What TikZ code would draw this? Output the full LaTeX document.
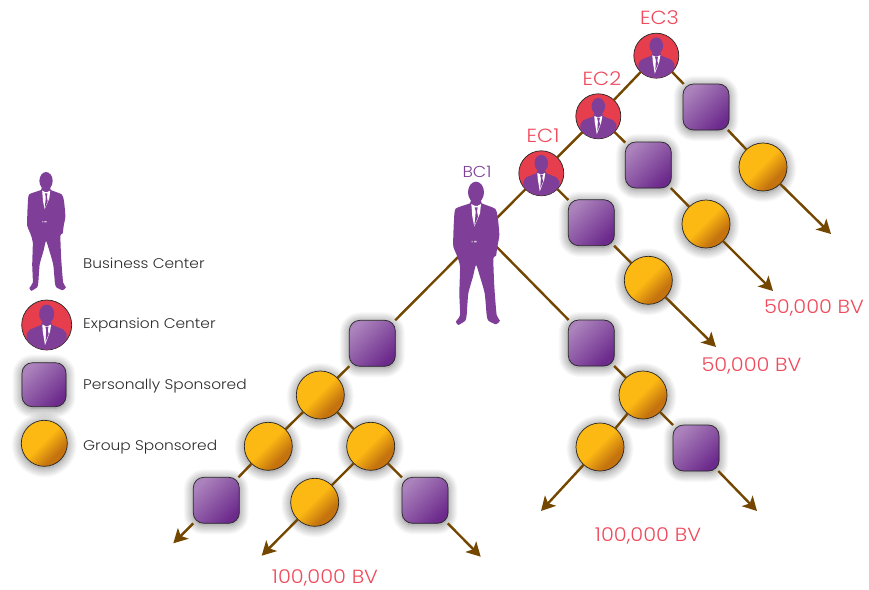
\documentclass[tikz,border=0pt]{standalone}
\usepackage{fontspec}
\setmainfont{Poppins Light}
\newfontfamily\widefont[FakeStretch=1.1]{Poppins Light}
\usetikzlibrary{arrows.meta,shadows.blur}
\definecolor{pplA}{HTML}{AB82BC}
\definecolor{pplB}{HTML}{6C2A8C}
\definecolor{ppl}{HTML}{7F3F98}
\definecolor{ylwA}{HTML}{FDB913}
\definecolor{ylwB}{HTML}{C4730F}
\definecolor{ecred}{HTML}{E63E4C}
\definecolor{bvred}{HTML}{EF4A5B}
\definecolor{lnk}{HTML}{744700}
\definecolor{txt}{HTML}{2B2B2B}
\pgfdeclareverticalshading{goldshade}{100bp}{color(0bp)=(ylwB); color(32bp)=(ylwB); color(52bp)=(ylwA); color(100bp)=(ylwA)}
\pgfdeclareverticalshading{purpleshade}{100bp}{color(0bp)=(pplB); color(25bp)=(pplB); color(75bp)=(pplA); color(100bp)=(pplA)}
\tikzset{
  softshadow/.style={blur shadow={shadow xshift=0pt,shadow yshift=-1.5pt,shadow blur radius=10pt,shadow opacity=55,shadow blur steps=16}},
  sqbox/.style={draw=black!85,line width=.7pt,rounded corners=10.5pt,minimum size=46pt,inner sep=0pt,outer sep=0pt,
    shading=purpleshade,shading angle=45,softshadow},
  goldball/.style={circle,draw=black!85,line width=.7pt,minimum size=48pt,inner sep=0pt,outer sep=0pt,
    shading=goldshade,shading angle=45,softshadow},
  ecball/.style={circle,draw=black!85,fill=ecred,line width=.7pt,minimum size=45pt,inner sep=0pt,outer sep=0pt},
  link/.style={draw=lnk,line width=2.4pt},
  arrowlink/.style={link,-{Stealth[length=14pt,width=15pt,inset=3.5pt]}},
  bvlabel/.style={text=bvred,font=\widefont\fontsize{19}{21}\selectfont,inner sep=0pt,anchor=base},
  leglabel/.style={text=txt,font=\widefont\fontsize{14}{17}\selectfont,anchor=base west,inner sep=0pt},
  person/.pic={
    \fill[ppl] (108,577) ellipse[x radius=24,y radius=32];
    \fill[ppl] plot[smooth cycle,tension=.35] coordinates{
      (93,600)(123,600)(125,610)(165,626)(173,650)(178,705)(172,740)(168,768)(160,775)(163,860)(170,945)(180,962)(168,973)(145,962)(140,945)
      (134,880)(120,830)(108,795)(99,830)(85,880)(80,945)(76,962)(55,975)(48,965)(60,945)(58,880)(60,800)(52,770)(40,740)(40,705)(42,660)(47,626)(90,610)};
    \fill[white] (94,612)--(105,618)--(112,618)--(123,612)--(120,640)--(103,680)--(97,650)--cycle;
    \fill[ppl] (104,622)--(113,622)--(111,634)--(114,650)--(103,678)--(106,650)--(107,634)--cycle;
    \fill[white!70!ppl] (95,723) rectangle (98,727) (102,723) rectangle (110,727);
  },
  bust/.pic={
    \clip (0,0) circle (22.2);
    \fill[ppl] (0,-10) ellipse[x radius=6.8,y radius=8.4];
    \fill[ppl] (-4,-3)--(4,-3)--(5,0)--(15,4)--(18,8)--(18,24)--(-18,24)--(-18,8)--(-15,4)--(-5,0)--cycle;
    \fill[white] (-4,-.5)--(-1,1)--(1,1)--(4,-.5)--(3,6)--(-1.5,18)--(-3.5,6)--cycle;
    \fill[ppl] (-1.2,1.5)--(1.6,1.5)--(1,5)--(1.8,8)--(-1,15)--(-.6,8)--(-.4,5)--cycle;
  }
}
\begin{document}
\begin{tikzpicture}[x=1pt,y=-1pt]
\useasboundingbox (0,0) rectangle (869,589);
% upper chain
\node[ecball] (ec3) at (656.3,55.7) {};
\node[ecball] (ec2) at (598.3,116.3) {};
\node[ecball] (ec1) at (541.3,173.3) {};
\pic at (ec3) {bust};
\pic at (ec2) {bust};
\pic at (ec1) {bust};
\coordinate (bc1) at (482.5,232.5);
\node[sqbox] (s3) at (706,107) {};
\node[sqbox] (s2) at (648.3,165) {};
\node[sqbox] (s1) at (591.3,222.7) {};
\node[goldball] (g3) at (763,167) {};
\node[goldball] (g2) at (706,224) {};
\node[goldball] (g1) at (648.3,280.3) {};
\coordinate (t3) at (831,234);
\coordinate (t2) at (773,291);
\coordinate (t1) at (716,347);
% left tree
\node[sqbox] (sl) at (372.3,343.3) {};
\node[goldball] (gl) at (320.3,395) {};
\node[goldball] (gll) at (268.3,446.3) {};
\node[goldball] (glr) at (370.7,446.3) {};
\node[sqbox] (slb) at (216.3,500.3) {};
\node[goldball] (glm) at (314.7,502.3) {};
\node[sqbox] (slc) at (425,500.3) {};
\coordinate (ta) at (173.3,543.3);
\coordinate (tb) at (261.7,555.7);
\coordinate (tc) at (480.7,556.7);
% right tree
\node[sqbox] (sr) at (591.3,343) {};
\node[goldball] (gr) at (643,395) {};
\node[goldball] (grl) at (600,447) {};
\node[sqbox] (srr) at (696,448) {};
\coordinate (td) at (541,511);
\coordinate (te) at (757,511);
% connectors
\draw[link] (ec3)--(ec2);
\draw[link] (ec2)--(ec1);
\draw[link] (ec1)--(bc1);
\draw[link] (bc1)--(sl);
\draw[link] (bc1)--(sr);
\draw[link] (ec3)--(s3);
\draw[link] (ec2)--(s2);
\draw[link] (ec1)--(s1);
\draw[link] (s3)--(g3);
\draw[link] (s2)--(g2);
\draw[link] (s1)--(g1);
\draw[arrowlink] (g3)--(t3);
\draw[arrowlink] (g2)--(t2);
\draw[arrowlink] (g1)--(t1);
\draw[link] (sl)--(gl);
\draw[link] (gl)--(gll);
\draw[link] (gl)--(glr);
\draw[link] (gll)--(slb);
\draw[link] (glr)--(glm);
\draw[link] (glr)--(slc);
\draw[arrowlink] (slb)--(ta);
\draw[arrowlink] (glm)--(tb);
\draw[arrowlink] (slc)--(tc);
\draw[link] (sr)--(gr);
\draw[link] (gr)--(grl);
\draw[link] (gr)--(srr);
\draw[arrowlink] (grl)--(td);
\draw[arrowlink] (srr)--(te);
% main person
\pic[scale=.3333] at (440,0) {person};
% labels
\node[bvlabel] (lec3) at (659.5,24) {EC3};
\node[bvlabel] (lec2) at (602,85) {EC2};
\node[bvlabel] (lec1) at (543,142.3) {EC1};
\node[bvlabel,text=ppl,font=\widefont\fontsize{15.8}{18}\selectfont] (lbc1) at (477,177.3) {BC1};
\node[bvlabel] (bv1) at (814,313) {50,000 BV};
\node[bvlabel] (bv2) at (751.5,371) {50,000 BV};
\node[bvlabel] (bv3) at (648,541) {100,000 BV};
\node[bvlabel] (bv4) at (325,583.5) {100,000 BV};
% legend
\pic[scale=.2762] at (16.2,21.5) {person};
\node[ecball,minimum size=50pt] (lgec) at (46.7,325) {};
\pic[scale=1.11] at (lgec) {bust};
\node[sqbox,minimum size=44pt] (lgs) at (44,384.7) {};
\node[goldball,minimum size=46pt] (lgg) at (44.3,443.3) {};
\node[leglabel] (t1l) at (83,268.3) {Business Center};
\node[leglabel] (t2l) at (83,328.3) {Expansion Center};
\node[leglabel] (t3l) at (83,389.3) {Personally Sponsored};
\node[leglabel] (t4l) at (83,450) {Group Sponsored};
\end{tikzpicture}
\end{document}
